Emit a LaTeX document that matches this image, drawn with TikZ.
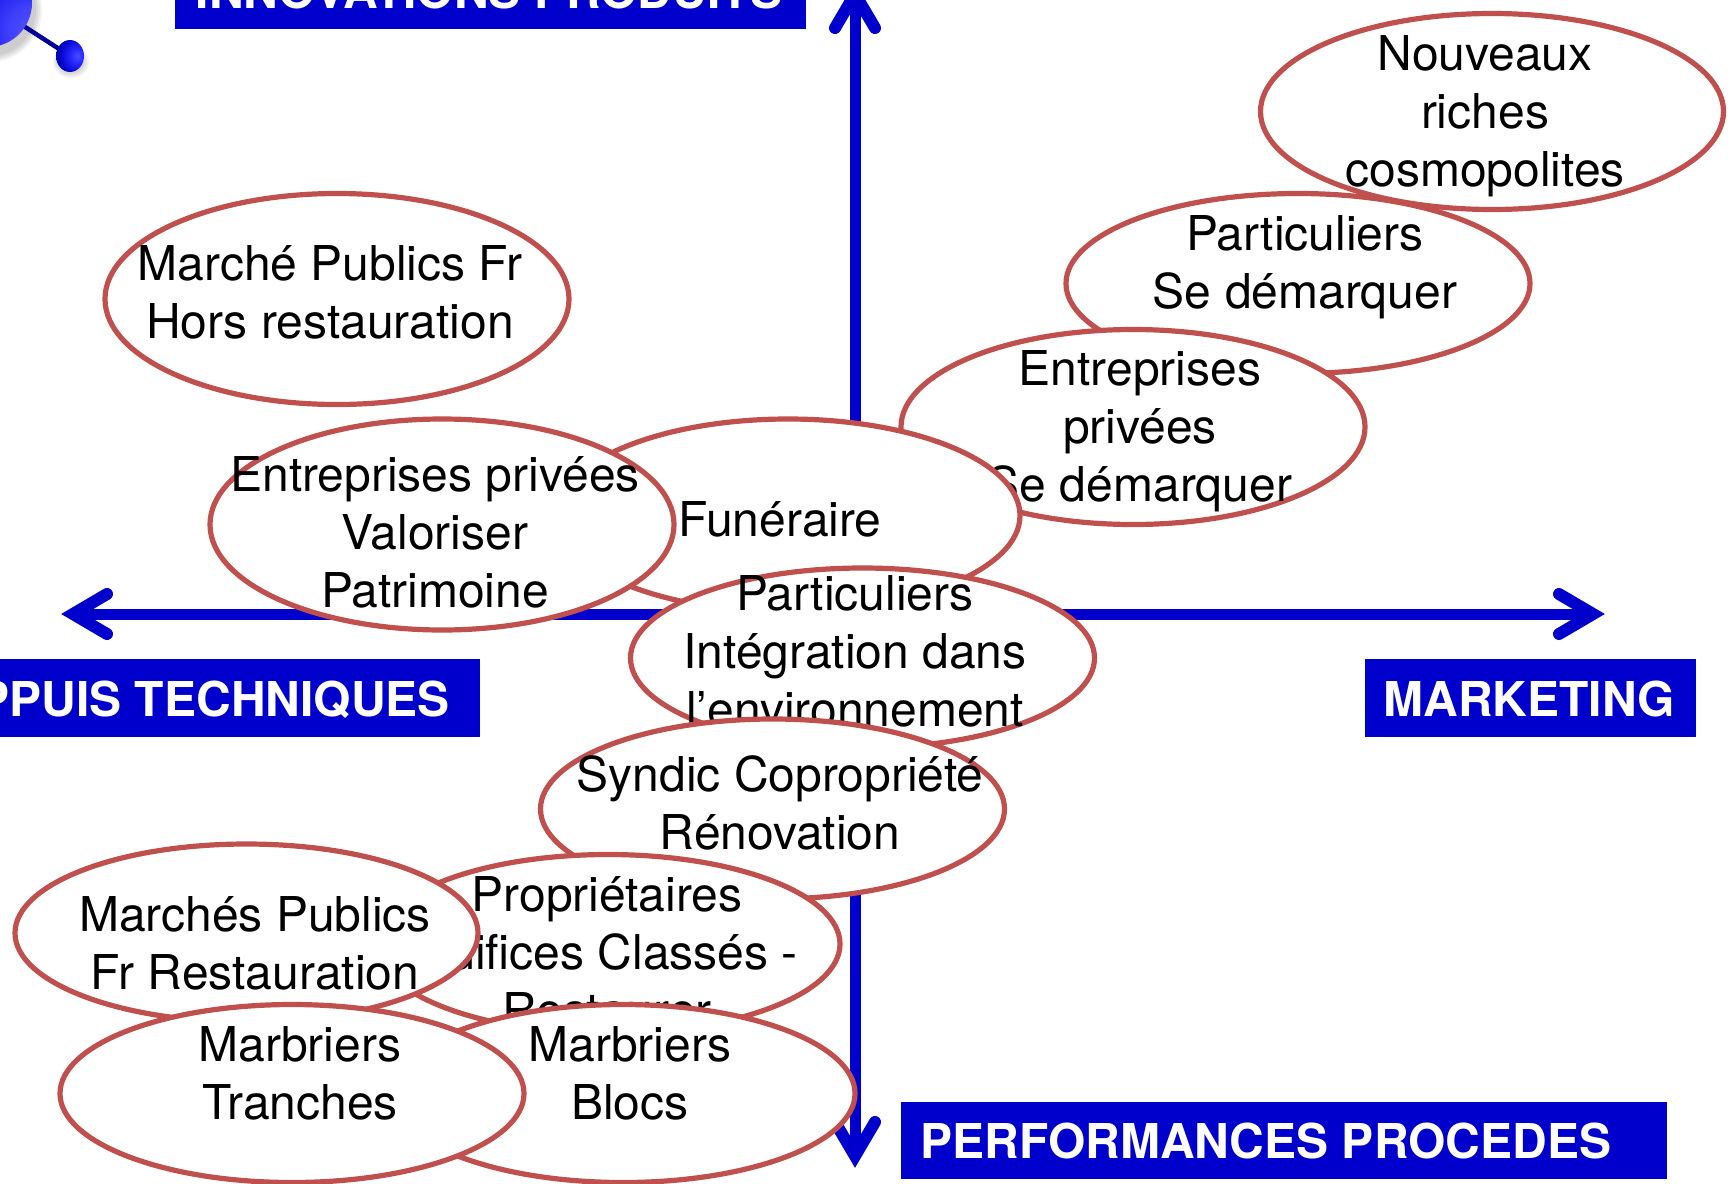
\documentclass[tikz,border=0pt]{standalone}
\usepackage{fontspec}
\setmainfont{TeX Gyre Heros}
\usetikzlibrary{shapes.geometric,calc}
\definecolor{axisblue}{HTML}{0000CC}
\definecolor{ringred}{HTML}{C0504D}
\definecolor{linknavy}{HTML}{000099}
\pgfdeclareradialshading{sphbig}{\pgfpoint{30bp}{-18bp}}{color(0bp)=(blue!65!white);color(14bp)=(blue!75!white);color(34bp)=(blue!85!black);color(55bp)=(blue!65!black);color(100bp)=(blue!50!black)}
\pgfdeclareradialshading{sphsmall}{\pgfpoint{14bp}{0bp}}{color(0bp)=(blue!70!white);color(12bp)=(blue!85!white);color(30bp)=(blue!75!black);color(60bp)=(blue!55!black);color(100bp)=(blue!50!black)}
\tikzset{
  x=1pt,y=-1pt,
  oval/.style={ellipse,draw=ringred,fill=white,line width=5.2pt,inner sep=0pt,minimum width=2*#1},
  lab/.style={align=center,inner sep=0pt,font=\fontsize{48}{58}\selectfont,text=black},
  tagtext/.style={text=white,inner sep=0pt,font=\fontsize{48}{58}\selectfont\bfseries},
  axis/.style={draw=axisblue,line width=11pt,shorten >=24pt,shorten <=24pt},
  head/.style={draw=axisblue,line width=12pt,line cap=round,line join=miter,miter limit=10},
  glow/.style={fill=black,opacity=0.05},
}
\begin{document}
\begin{tikzpicture}
\useasboundingbox (0,0) rectangle (1731,1183);
\clip (0,0) rectangle (1731,1183);
\fill[white] (0,0) rectangle (1731,1183);
% molecule
\foreach \r in {0,2,4,6}{
  \fill[glow] (-10,10) circle ({46+\r});
  \fill[glow] (71,62) ellipse ({12+\r} and {10+\r});
}
\coordinate (ma) at (-12,3);
\coordinate (mb) at (70,56);
\draw[line width=4.5pt,draw=linknavy] (ma) -- (mb);
\shade[shading=sphbig] (ma) circle (44);
\shade[shading=sphsmall] (mb) ellipse (14 and 16);
% axes
\coordinate (hl) at (61,614);
\coordinate (hr) at (1605,614);
\coordinate (vt) at (855,-18);
\coordinate (vb) at (855,1168);
\draw[axis] (hl) -- (hr);
\draw[axis] (vt) -- (vb);
\draw[head] ($(hr)+(-46,-20)$) -- ($(hr)+(-12,0)$) -- ($(hr)+(-46,20)$);
\draw[head] ($(hl)+(46,-20)$) -- ($(hl)+(12,0)$) -- ($(hl)+(46,20)$);
\draw[head] ($(vt)+(-20,46)$) -- ($(vt)+(0,12)$) -- ($(vt)+(20,46)$);
\draw[head] ($(vb)+(-20,-46)$) -- ($(vb)+(0,-12)$) -- ($(vb)+(20,-46)$);
% tags
\fill[axisblue] (175,-20) rectangle (806,29);
\node[tagtext,anchor=base] (t1) at (489,9) {INNOVATIONS PRODUITS};
\fill[axisblue] (-20,659) rectangle (480,737);
\node[tagtext,anchor=base east] (t2) at (450,716) {APPUIS TECHNIQUES};
\fill[axisblue] (1365,659) rectangle (1696,737);
\node[tagtext,anchor=base] (t3) at (1529,716) {MARKETING};
\fill[axisblue] (901,1102) rectangle (1667,1179);
\node[tagtext,anchor=base] (t4) at (1266,1158) {PERFORMANCES PROCEDES};
% ellipses
\node[oval=232pt,minimum height=180pt] (e2) at (1298,283.5) {};
\node[lab] (l2) at (1305,267) {Particuliers\\Se démarquer};
\node[oval=231.5pt,minimum height=196pt] (e1) at (1492,111.5) {};
\node[lab] (l1) at (1485,116) {Nouveaux\\riches\\cosmopolites};
\node[oval=232pt,minimum height=195pt] (e3) at (1133,427) {};
\node[lab] (l3) at (1140,431) {Entreprises\\privées\\Se démarquer};
\node[oval=232pt,minimum height=211pt] (e4) at (337,299) {};
\node[lab] (l4) at (330,292) {Marché Publics Fr\\Hors restauration};
\node[oval=232pt,minimum height=193pt] (e5) at (788,515.5) {};
\node[lab] (l5) at (780,519) {Funéraire};
\node[oval=232pt,minimum height=211pt] (e6) at (442,524.5) {};
\node[lab] (l6) at (435,532) {Entreprises privées\\Valoriser\\Patrimoine};
\node[oval=232pt,minimum height=180pt] (e7) at (862.5,658) {};
\node[lab] (l7) at (855,651) {Particuliers\\Intégration dans\\l’environnement};
\node[oval=232pt,minimum height=180pt] (e8) at (772.5,809) {};
\node[lab] (l8) at (780,803) {Syndic Copropriété\\Rénovation};
\node[oval=232pt,minimum height=179pt] (e9) at (608,944) {};
\node[lab] (l9) at (607,952) {Propriétaires\\Edifices Classés -\\Restaurer};
\node[oval=231.5pt,minimum height=178pt] (e10) at (246.5,933) {};
\node[lab] (l10) at (255,943) {Marchés Publics\\Fr Restauration};
\node[oval=232pt,minimum height=178pt] (e12) at (623,1093.5) {};
\node[lab] (l12) at (630,1073) {Marbriers\\Blocs};
\node[oval=232pt,minimum height=178pt] (e11) at (292,1093.5) {};
\node[lab] (l11) at (300,1073) {Marbriers\\Tranches};
\end{tikzpicture}
\end{document}
